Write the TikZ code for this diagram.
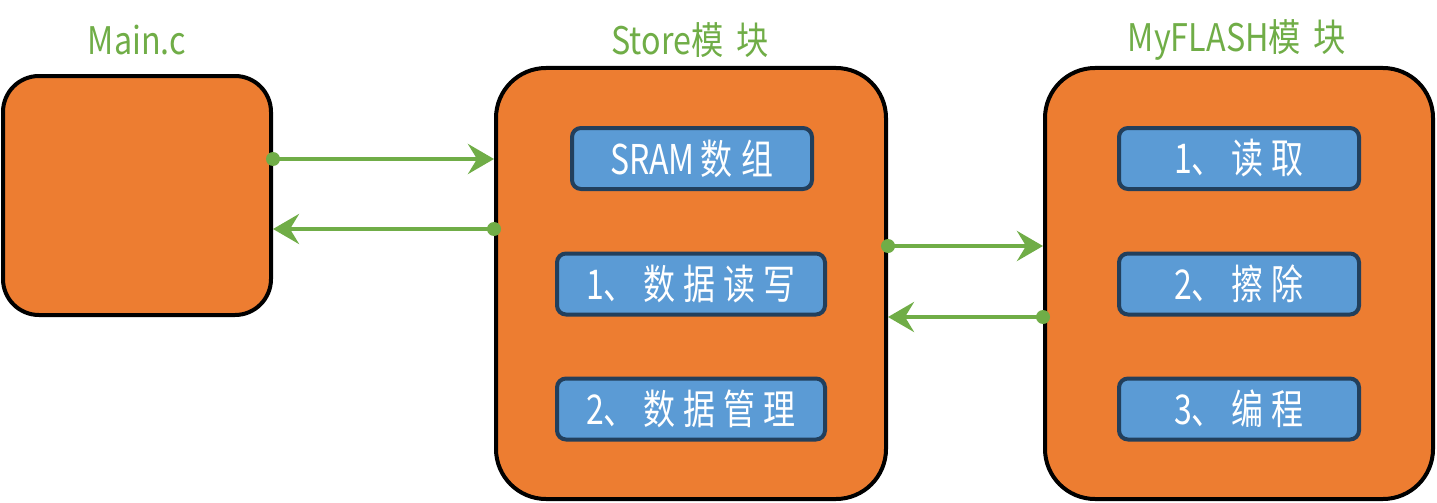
\documentclass[tikz,border=0pt]{standalone}
\usepackage{fontspec}
\newfontfamily\cjk[FakeStretch=0.85]{Noto Sans CJK SC}
\newfontfamily\cjkn[FakeStretch=0.78]{Noto Sans CJK SC}
\usetikzlibrary{arrows.meta}
\definecolor{orangefill}{HTML}{ED7D31}
\definecolor{bluefill}{HTML}{5B9BD5}
\definecolor{blueedge}{HTML}{223F5C}
\definecolor{greenc}{HTML}{70AD47}
\newcommand{\gp}{\hspace{8pt}}
\tikzset{
  modbox/.style={draw=black, line width=4pt, fill=orangefill, rounded corners=#1, inner sep=0pt},
  subbox/.style={draw=blueedge, line width=4pt, fill=bluefill, rounded corners=9pt, inner sep=0pt,
    minimum height=61pt, text=white, font=\cjkn\fontsize{41}{41}\selectfont},
  title/.style={text=greenc, font=\cjk\fontsize{38}{38}\selectfont, inner sep=0pt},
  link/.style={draw=greenc, line width=4pt, -{Stealth[length=26pt,width=30pt,inset=9pt]}, shorten >=0pt},
  dot/.style={circle, fill=greenc, minimum size=14pt, inner sep=0pt},
}
\begin{document}
\begin{tikzpicture}[x=1pt,y=-1pt]
\useasboundingbox (0,0) rectangle (1437,503);
% modules
\node[modbox=36pt, minimum width=268pt, minimum height=239pt] (main) at (137,195.5) {};
\node[modbox=50pt, minimum width=390pt, minimum height=431pt] (store) at (691,283.5) {};
\node[modbox=50pt, minimum width=388pt, minimum height=431pt] (flash) at (1239,283.5) {};
% titles
\node[title] (tmain) at (137,40) {Main.c};
\node[title] (tstore) at (690,40) {Store模\,\,块};
\node[title] (tflash) at (1237,40) {MyFLASH模\,\,块};
% sub boxes
\node[subbox, minimum width=240pt] (sram) at (692,158.5) {SRAM\hspace{6pt}数\hspace{9pt}组};
\node[subbox, minimum width=268pt] (rw) at (691,284) {1、\gp 数\gp 据\gp 读\gp 写};
\node[subbox, minimum width=268pt] (mg) at (691,409) {2、\gp 数\gp 据\gp 管\gp 理};
\node[subbox, minimum width=240pt] (rd) at (1239,158.5) {1、\gp 读\gp 取};
\node[subbox, minimum width=240pt] (er) at (1239,284) {2、\gp 擦\gp 除};
\node[subbox, minimum width=240pt] (pg) at (1239,409) {3、\gp 编\gp 程};
% connectors
\coordinate (a1s) at (main.east |- 0,159);
\coordinate (a1e) at (store.west |- 0,159);
\coordinate (a2s) at (store.west |- 0,229);
\coordinate (a2e) at (main.east |- 0,229);
\coordinate (a3s) at (store.east |- 0,246);
\coordinate (a3e) at (flash.west |- 0,246);
\coordinate (a4s) at (flash.west |- 0,317);
\coordinate (a4e) at (store.east |- 0,317);
\draw[link] (a1s) -- (a1e);
\draw[link] (a2s) -- (a2e);
\draw[link] (a3s) -- (a3e);
\draw[link] (a4s) -- (a4e);
\node[dot] (d1) at (a1s) {};
\node[dot] (d2) at (a2s) {};
\node[dot] (d3) at (a3s) {};
\node[dot] (d4) at (a4s) {};
\end{tikzpicture}
\end{document}
